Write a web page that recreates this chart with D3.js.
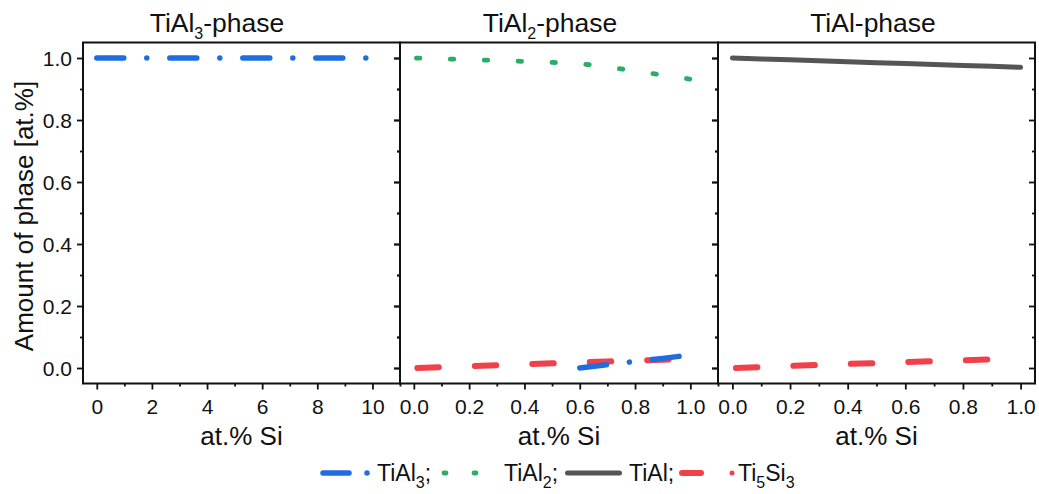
<!DOCTYPE html>
<html>
<head>
<meta charset="utf-8">
<script src="https://cdn.jsdelivr.net/npm/d3@7"></script>
<style>
  html, body { margin: 0; padding: 0; background: #fff; }
  svg { display: block; }
  text { font-family: 'Liberation Sans', Arial, sans-serif; fill: #111; }
</style>
</head>
<body>
<svg id="chart" width="1039" height="494"></svg>
<script>
// ---------------- data ----------------
const panelTitles = [["TiAl", "3", "-phase"], ["TiAl", "2", "-phase"], ["TiAl-phase", "", ""]];
const xLabel = "at.% Si";
const yLabel = "Amount of phase [at.%]";

// Panel 1 (TiAl3-phase), x in at.% Si 0..10
const xP1 = [0, 1, 2, 3, 4, 5, 6, 7, 8, 9, 10];
const tial3P1 = [1.0, 1.0, 1.0, 1.0, 1.0, 1.0, 1.0, 1.0, 1.0, 1.0, 1.0];

// Panels 2 & 3, x in at.% Si 0..1
const xFrac = [0, 0.1, 0.2, 0.3, 0.4, 0.5, 0.6, 0.7, 0.8, 0.9, 1.0];
const tial2P2 = [1.0, 0.997, 0.995, 0.992, 0.989, 0.986, 0.982, 0.971, 0.958, 0.945, 0.932];
const xTial3P2 = [0.6, 0.7, 0.8, 0.9, 1.0];
const tial3P2 = [0.0, 0.011, 0.021, 0.031, 0.042];
const ti5si3P2 = [0.0, 0.003, 0.006, 0.009, 0.012, 0.015, 0.018, 0.021, 0.024, 0.027, 0.030];

const tialP3 = [1.0, 0.997, 0.994, 0.991, 0.988, 0.985, 0.982, 0.979, 0.976, 0.973, 0.970];
const ti5si3P3 = [0.0, 0.003, 0.0065, 0.010, 0.013, 0.016, 0.019, 0.022, 0.025, 0.028, 0.031];

// ticks
const xMajorP1 = [0, 2, 4, 6, 8, 10];
const xMinorP1 = [1, 3, 5, 7, 9, 11];
const xMajorFrac = [0, 0.2, 0.4, 0.6, 0.8, 1.0];
const xMinorP2 = [0.1, 0.3, 0.5, 0.7, 0.9, 1.1];
const xMinorP3 = [0.1, 0.3, 0.5, 0.7, 0.9];
const yMajor = [0, 0.2, 0.4, 0.6, 0.8, 1.0];
const yMinor = [0.1, 0.3, 0.5, 0.7, 0.9];

// legend
const legendNames = [["TiAl", "3", ";"], ["TiAl", "2", ";"], ["TiAl;", "", ""], ["Ti", "5", "Si", "3"]];

// ---------------- styles ----------------
const colors = { tial3: "#1f6ee0", tial2: "#2aad66", tial: "#555555", ti5si3: "#f2404a" };
const styles = {
  tial3: { color: colors.tial3, width: 5.5, dash: "27,23,0.01,23", offset: 0 },
  tial2: { color: colors.tial2, width: 4.8, dash: "3.5,30.4", offset: -2.6 },
  tial: { color: colors.tial, width: 5, dash: null, offset: 0 },
  ti5si3: { color: colors.ti5si3, width: 6, dash: "21.5,36", offset: -3.5 }
};

// ---------------- layout ----------------
const svg = d3.select("#chart");
const yTop = 42.5, yBottom = 383.5;
const y = d3.scaleLinear().domain([-0.05, 1.05]).range([yBottom, yTop]);

const panels = [
  { x0: 83, x1: 400, domain: [-0.5, 11], major: xMajorP1, minor: xMinorP1, fmt: d3.format("d"), titleX: 217,
    series: [{ xs: xP1, ys: tial3P1, s: "tial3" }] },
  { x0: 400, x1: 718, domain: [-0.05, 1.1], major: xMajorFrac, minor: xMinorP2, fmt: d3.format(".1f"), titleX: 550,
    series: [{ xs: xFrac, ys: tial2P2, s: "tial2" }, { xs: xFrac, ys: ti5si3P2, s: "ti5si3" }, { xs: xTial3P2, ys: tial3P2, s: "tial3" }] },
  { x0: 718, x1: 1035, domain: [-0.05, 1.05], major: xMajorFrac, minor: xMinorP3, fmt: d3.format(".1f"), titleX: 873,
    series: [{ xs: xFrac, ys: tialP3, s: "tial" }, { xs: xFrac, ys: ti5si3P3, s: "ti5si3" }] }
];

function styleAxis(g) {
  g.select(".domain").remove();
  g.selectAll(".tick line").attr("stroke", "#111").attr("stroke-width", 1.8);
  g.selectAll(".tick text").attr("fill", "#111").style("font-family", "'Liberation Sans', Arial, sans-serif");
}

panels.forEach((p, i) => {
  const x = d3.scaleLinear().domain(p.domain).range([p.x0, p.x1]);
  const g = svg.append("g");

  // lines
  p.series.forEach(sr => {
    const st = styles[sr.s];
    const pts = sr.xs.map((v, k) => [v, sr.ys[k]]);
    const line = d3.line().x(d => x(d[0])).y(d => y(d[1]));
    const path = g.append("path").datum(pts).attr("d", line)
      .attr("fill", "none").attr("stroke", st.color).attr("stroke-width", st.width)
      .attr("stroke-linecap", "round").attr("stroke-linejoin", "round");
    if (st.dash) path.attr("stroke-dasharray", st.dash).attr("stroke-dashoffset", st.offset);
  });

  // bottom axis major
  const gb = g.append("g").attr("transform", `translate(0,${yBottom})`)
    .call(d3.axisBottom(x).tickValues(p.major).tickSize(6).tickPadding(10).tickFormat(p.fmt));
  styleAxis(gb);
  gb.selectAll(".tick text").style("font-size", "21px");
  const gbm = g.append("g").attr("transform", `translate(0,${yBottom})`)
    .call(d3.axisBottom(x).tickValues(p.minor).tickSize(3).tickFormat(""));
  styleAxis(gbm);

  // left axis (outward)
  const gl = g.append("g").attr("transform", `translate(${p.x0},0)`)
    .call(d3.axisLeft(y).tickValues(yMajor).tickSize(6).tickPadding(5).tickFormat(i === 0 ? d3.format(".1f") : ""));
  styleAxis(gl);
  gl.selectAll(".tick text").style("font-size", "21px").attr("dy", "0.36em");
  const glm = g.append("g").attr("transform", `translate(${p.x0},0)`)
    .call(d3.axisLeft(y).tickValues(yMinor).tickSize(3).tickFormat(""));
  styleAxis(glm);

  // right axis (inward)
  const gr = g.append("g").attr("transform", `translate(${p.x1},0)`)
    .call(d3.axisLeft(y).tickValues(yMajor).tickSize(6).tickFormat(""));
  styleAxis(gr);
  const grm = g.append("g").attr("transform", `translate(${p.x1},0)`)
    .call(d3.axisLeft(y).tickValues(yMinor).tickSize(3).tickFormat(""));
  styleAxis(grm);

  // frame
  g.append("rect").attr("x", p.x0).attr("y", yTop).attr("width", p.x1 - p.x0).attr("height", yBottom - yTop)
    .attr("fill", "none").attr("stroke", "#111").attr("stroke-width", 2);

  // title
  const t = g.append("text").attr("x", p.titleX).attr("y", 32).attr("text-anchor", "middle").style("font-size", "26.5px");
  const tt = panelTitles[i];
  t.append("tspan").text(tt[0]);
  if (tt[1]) {
    t.append("tspan").attr("dy", 7).style("font-size", "16px").text(tt[1]);
    t.append("tspan").attr("dy", -7).text(tt[2]);
  }

  // x label
  g.append("text").attr("x", (p.x0 + p.x1) / 2).attr("y", 445).attr("text-anchor", "middle")
    .style("font-size", "26px").text(xLabel);
});

// y label
svg.append("text").attr("transform", `translate(33,${(yTop + yBottom) / 2 + 3}) rotate(-90)`)
  .attr("text-anchor", "middle").style("font-size", "26px").text(yLabel);

// ---------------- legend ----------------
const ly = 473, lyText = 481;
const lg = svg.append("g");
function seg(x1, x2, st) {
  lg.append("line").attr("x1", x1).attr("x2", x2).attr("y1", ly).attr("y2", ly)
    .attr("stroke", st.color).attr("stroke-width", st.width).attr("stroke-linecap", "round");
}
// TiAl3 sample: dash + dot
seg(323, 349, styles.tial3); seg(367, 367.01, styles.tial3);
// TiAl2 sample: two dots
seg(444, 446, styles.tial2); seg(474, 476, styles.tial2);
// TiAl sample: solid
seg(567.5, 619.5, styles.tial);
// Ti5Si3 sample: dash + dot
seg(682, 701, styles.ti5si3); seg(732, 732.01, { color: colors.ti5si3, width: 5 });

const legendX = [377, 504, 629, 738];
legendNames.forEach((nm, i) => {
  const t = lg.append("text").attr("x", legendX[i]).attr("y", lyText).style("font-size", "23px");
  if (nm.length === 3) {
    t.append("tspan").text(nm[0]);
    if (nm[1]) {
      t.append("tspan").attr("dy", 7).style("font-size", "16px").text(nm[1]);
      t.append("tspan").attr("dy", -7).text(nm[2]);
    }
  } else {
    t.append("tspan").text(nm[0]);
    t.append("tspan").attr("dy", 7).style("font-size", "16px").text(nm[1]);
    t.append("tspan").attr("dy", -7).text(nm[2]);
    t.append("tspan").attr("dy", 7).style("font-size", "16px").text(nm[3]);
  }
});
</script>
</body>
</html>
